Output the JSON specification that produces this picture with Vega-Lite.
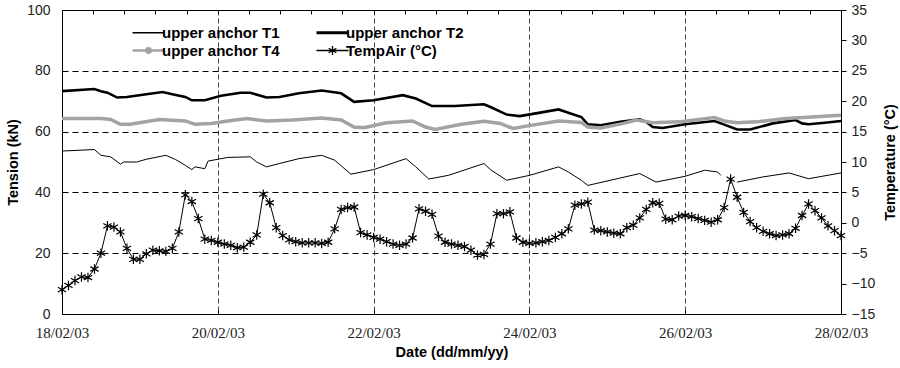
{
  "$schema": "https://vega.github.io/schema/vega-lite/v6.json",
  "width": 779,
  "height": 304,
  "autosize": "none",
  "padding": {"left": 62, "top": 10, "right": 59, "bottom": 54},
  "background": "white",
  "config": {
    "view": {"stroke": "black", "strokeWidth": 1},
    "axis": {"domainColor": "black", "tickColor": "black", "labelColor": "#222222", "titleColor": "black", "labelFont": "Liberation Sans", "titleFont": "Liberation Sans", "titleFontWeight": "bold", "titleFontSize": 14.5, "labelFontSize": 14}
  },
  "data": {
    "values": [
      {"time": "2003-02-18T00:00", "series": "upper anchor T1", "value": 53.6},
      {"time": "2003-02-18T10:00", "series": "upper anchor T1", "value": 54.1},
      {"time": "2003-02-18T12:00", "series": "upper anchor T1", "value": 52.2},
      {"time": "2003-02-18T15:00", "series": "upper anchor T1", "value": 51.7},
      {"time": "2003-02-18T18:00", "series": "upper anchor T1", "value": 49.3},
      {"time": "2003-02-18T19:00", "series": "upper anchor T1", "value": 50.0},
      {"time": "2003-02-18T23:00", "series": "upper anchor T1", "value": 50.0},
      {"time": "2003-02-19T02:00", "series": "upper anchor T1", "value": 50.9},
      {"time": "2003-02-19T08:00", "series": "upper anchor T1", "value": 52.2},
      {"time": "2003-02-19T11:00", "series": "upper anchor T1", "value": 50.8},
      {"time": "2003-02-19T14:00", "series": "upper anchor T1", "value": 48.9},
      {"time": "2003-02-19T16:00", "series": "upper anchor T1", "value": 47.5},
      {"time": "2003-02-19T17:00", "series": "upper anchor T1", "value": 48.4},
      {"time": "2003-02-19T20:00", "series": "upper anchor T1", "value": 47.8},
      {"time": "2003-02-19T21:00", "series": "upper anchor T1", "value": 50.3},
      {"time": "2003-02-20T03:00", "series": "upper anchor T1", "value": 51.5},
      {"time": "2003-02-20T10:00", "series": "upper anchor T1", "value": 51.7},
      {"time": "2003-02-20T12:00", "series": "upper anchor T1", "value": 50.0},
      {"time": "2003-02-20T15:00", "series": "upper anchor T1", "value": 48.4},
      {"time": "2003-02-20T19:00", "series": "upper anchor T1", "value": 49.5},
      {"time": "2003-02-21T01:00", "series": "upper anchor T1", "value": 51.1},
      {"time": "2003-02-21T08:00", "series": "upper anchor T1", "value": 52.2},
      {"time": "2003-02-21T12:00", "series": "upper anchor T1", "value": 50.6},
      {"time": "2003-02-21T17:00", "series": "upper anchor T1", "value": 46.0},
      {"time": "2003-02-22T00:00", "series": "upper anchor T1", "value": 47.5},
      {"time": "2003-02-22T10:00", "series": "upper anchor T1", "value": 51.1},
      {"time": "2003-02-22T13:00", "series": "upper anchor T1", "value": 48.4},
      {"time": "2003-02-22T17:00", "series": "upper anchor T1", "value": 44.4},
      {"time": "2003-02-22T23:00", "series": "upper anchor T1", "value": 45.6},
      {"time": "2003-02-23T10:00", "series": "upper anchor T1", "value": 49.5},
      {"time": "2003-02-23T12:00", "series": "upper anchor T1", "value": 47.5},
      {"time": "2003-02-23T17:00", "series": "upper anchor T1", "value": 44.0},
      {"time": "2003-02-24T00:00", "series": "upper anchor T1", "value": 45.6},
      {"time": "2003-02-24T09:00", "series": "upper anchor T1", "value": 48.4},
      {"time": "2003-02-24T12:00", "series": "upper anchor T1", "value": 46.7},
      {"time": "2003-02-24T16:00", "series": "upper anchor T1", "value": 44.0},
      {"time": "2003-02-24T18:00", "series": "upper anchor T1", "value": 42.3},
      {"time": "2003-02-25T10:00", "series": "upper anchor T1", "value": 46.2},
      {"time": "2003-02-25T12:00", "series": "upper anchor T1", "value": 45.1},
      {"time": "2003-02-25T15:00", "series": "upper anchor T1", "value": 43.4},
      {"time": "2003-02-26T00:00", "series": "upper anchor T1", "value": 45.3},
      {"time": "2003-02-26T06:00", "series": "upper anchor T1", "value": 47.3},
      {"time": "2003-02-26T10:00", "series": "upper anchor T1", "value": 46.7},
      {"time": "2003-02-26T11:00", "series": "upper anchor T1", "value": 45.6},
      {"time": "2003-02-26T13:00", "series": "upper anchor T1", "value": null},
      {"time": "2003-02-26T16:00", "series": "upper anchor T1", "value": 43.4},
      {"time": "2003-02-27T00:00", "series": "upper anchor T1", "value": 45.1},
      {"time": "2003-02-27T08:00", "series": "upper anchor T1", "value": 46.4},
      {"time": "2003-02-27T14:00", "series": "upper anchor T1", "value": 44.5},
      {"time": "2003-02-28T00:00", "series": "upper anchor T1", "value": 46.4},

      {"time": "2003-02-18T00:00", "series": "upper anchor T2", "value": 73.3},
      {"time": "2003-02-18T10:00", "series": "upper anchor T2", "value": 74.0},
      {"time": "2003-02-18T12:00", "series": "upper anchor T2", "value": 73.3},
      {"time": "2003-02-18T14:00", "series": "upper anchor T2", "value": 72.8},
      {"time": "2003-02-18T17:00", "series": "upper anchor T2", "value": 71.2},
      {"time": "2003-02-18T20:00", "series": "upper anchor T2", "value": 71.4},
      {"time": "2003-02-19T02:00", "series": "upper anchor T2", "value": 72.3},
      {"time": "2003-02-19T07:00", "series": "upper anchor T2", "value": 73.0},
      {"time": "2003-02-19T10:00", "series": "upper anchor T2", "value": 72.3},
      {"time": "2003-02-19T14:00", "series": "upper anchor T2", "value": 71.4},
      {"time": "2003-02-19T16:00", "series": "upper anchor T2", "value": 70.3},
      {"time": "2003-02-19T20:00", "series": "upper anchor T2", "value": 70.3},
      {"time": "2003-02-20T01:00", "series": "upper anchor T2", "value": 71.8},
      {"time": "2003-02-20T07:00", "series": "upper anchor T2", "value": 72.8},
      {"time": "2003-02-20T10:00", "series": "upper anchor T2", "value": 72.8},
      {"time": "2003-02-20T15:00", "series": "upper anchor T2", "value": 71.2},
      {"time": "2003-02-20T19:00", "series": "upper anchor T2", "value": 71.4},
      {"time": "2003-02-21T01:00", "series": "upper anchor T2", "value": 72.6},
      {"time": "2003-02-21T08:00", "series": "upper anchor T2", "value": 73.5},
      {"time": "2003-02-21T14:00", "series": "upper anchor T2", "value": 72.6},
      {"time": "2003-02-21T18:00", "series": "upper anchor T2", "value": 69.8},
      {"time": "2003-02-22T00:00", "series": "upper anchor T2", "value": 70.3},
      {"time": "2003-02-22T09:00", "series": "upper anchor T2", "value": 72.0},
      {"time": "2003-02-22T13:00", "series": "upper anchor T2", "value": 70.9},
      {"time": "2003-02-22T18:00", "series": "upper anchor T2", "value": 68.4},
      {"time": "2003-02-23T01:00", "series": "upper anchor T2", "value": 68.4},
      {"time": "2003-02-23T10:00", "series": "upper anchor T2", "value": 69.0},
      {"time": "2003-02-23T12:00", "series": "upper anchor T2", "value": 68.1},
      {"time": "2003-02-23T17:00", "series": "upper anchor T2", "value": 65.6},
      {"time": "2003-02-23T21:00", "series": "upper anchor T2", "value": 65.1},
      {"time": "2003-02-24T02:00", "series": "upper anchor T2", "value": 66.0},
      {"time": "2003-02-24T09:00", "series": "upper anchor T2", "value": 67.3},
      {"time": "2003-02-24T12:00", "series": "upper anchor T2", "value": 66.2},
      {"time": "2003-02-24T16:00", "series": "upper anchor T2", "value": 64.8},
      {"time": "2003-02-24T18:00", "series": "upper anchor T2", "value": 62.4},
      {"time": "2003-02-24T22:00", "series": "upper anchor T2", "value": 62.1},
      {"time": "2003-02-25T04:00", "series": "upper anchor T2", "value": 63.2},
      {"time": "2003-02-25T10:00", "series": "upper anchor T2", "value": 64.0},
      {"time": "2003-02-25T12:00", "series": "upper anchor T2", "value": 63.2},
      {"time": "2003-02-25T14:00", "series": "upper anchor T2", "value": 61.5},
      {"time": "2003-02-25T17:00", "series": "upper anchor T2", "value": 61.2},
      {"time": "2003-02-26T00:00", "series": "upper anchor T2", "value": 62.4},
      {"time": "2003-02-26T09:00", "series": "upper anchor T2", "value": 63.5},
      {"time": "2003-02-26T11:00", "series": "upper anchor T2", "value": 62.7},
      {"time": "2003-02-26T16:00", "series": "upper anchor T2", "value": 60.7},
      {"time": "2003-02-26T20:00", "series": "upper anchor T2", "value": 60.7},
      {"time": "2003-02-27T03:00", "series": "upper anchor T2", "value": 62.7},
      {"time": "2003-02-27T10:00", "series": "upper anchor T2", "value": 63.8},
      {"time": "2003-02-27T12:00", "series": "upper anchor T2", "value": 62.7},
      {"time": "2003-02-27T14:00", "series": "upper anchor T2", "value": 62.4},
      {"time": "2003-02-27T19:00", "series": "upper anchor T2", "value": 62.9},
      {"time": "2003-02-28T00:00", "series": "upper anchor T2", "value": 63.5},

      {"time": "2003-02-18T00:00", "series": "upper anchor T4", "value": 64.3},
      {"time": "2003-02-18T12:00", "series": "upper anchor T4", "value": 64.3},
      {"time": "2003-02-18T15:00", "series": "upper anchor T4", "value": 64.0},
      {"time": "2003-02-18T18:00", "series": "upper anchor T4", "value": 62.4},
      {"time": "2003-02-18T21:00", "series": "upper anchor T4", "value": 62.4},
      {"time": "2003-02-19T06:00", "series": "upper anchor T4", "value": 64.0},
      {"time": "2003-02-19T14:00", "series": "upper anchor T4", "value": 63.5},
      {"time": "2003-02-19T17:00", "series": "upper anchor T4", "value": 62.4},
      {"time": "2003-02-19T22:00", "series": "upper anchor T4", "value": 62.7},
      {"time": "2003-02-20T03:00", "series": "upper anchor T4", "value": 63.5},
      {"time": "2003-02-20T09:00", "series": "upper anchor T4", "value": 64.3},
      {"time": "2003-02-20T15:00", "series": "upper anchor T4", "value": 63.5},
      {"time": "2003-02-20T23:00", "series": "upper anchor T4", "value": 63.8},
      {"time": "2003-02-21T08:00", "series": "upper anchor T4", "value": 64.5},
      {"time": "2003-02-21T14:00", "series": "upper anchor T4", "value": 63.8},
      {"time": "2003-02-21T18:00", "series": "upper anchor T4", "value": 61.5},
      {"time": "2003-02-21T21:00", "series": "upper anchor T4", "value": 61.3},
      {"time": "2003-02-22T04:00", "series": "upper anchor T4", "value": 62.9},
      {"time": "2003-02-22T12:00", "series": "upper anchor T4", "value": 63.5},
      {"time": "2003-02-22T16:00", "series": "upper anchor T4", "value": 61.5},
      {"time": "2003-02-22T19:00", "series": "upper anchor T4", "value": 60.7},
      {"time": "2003-02-23T03:00", "series": "upper anchor T4", "value": 62.4},
      {"time": "2003-02-23T10:00", "series": "upper anchor T4", "value": 63.4},
      {"time": "2003-02-23T15:00", "series": "upper anchor T4", "value": 62.7},
      {"time": "2003-02-23T19:00", "series": "upper anchor T4", "value": 61.0},
      {"time": "2003-02-23T23:00", "series": "upper anchor T4", "value": 61.8},
      {"time": "2003-02-24T09:00", "series": "upper anchor T4", "value": 63.5},
      {"time": "2003-02-24T16:00", "series": "upper anchor T4", "value": 63.0},
      {"time": "2003-02-24T18:00", "series": "upper anchor T4", "value": 61.5},
      {"time": "2003-02-24T22:00", "series": "upper anchor T4", "value": 61.2},
      {"time": "2003-02-25T05:00", "series": "upper anchor T4", "value": 62.7},
      {"time": "2003-02-25T09:00", "series": "upper anchor T4", "value": 63.8},
      {"time": "2003-02-25T14:00", "series": "upper anchor T4", "value": 62.9},
      {"time": "2003-02-25T22:00", "series": "upper anchor T4", "value": 63.2},
      {"time": "2003-02-26T09:00", "series": "upper anchor T4", "value": 64.6},
      {"time": "2003-02-26T12:00", "series": "upper anchor T4", "value": 63.5},
      {"time": "2003-02-26T16:00", "series": "upper anchor T4", "value": 62.9},
      {"time": "2003-02-26T22:00", "series": "upper anchor T4", "value": 63.2},
      {"time": "2003-02-27T07:00", "series": "upper anchor T4", "value": 64.3},
      {"time": "2003-02-27T15:00", "series": "upper anchor T4", "value": 64.8},
      {"time": "2003-02-28T00:00", "series": "upper anchor T4", "value": 65.4},

      {"time": "2003-02-18T00:00", "series": "TempAir (°C)", "value": -11.0},
      {"time": "2003-02-18T02:00", "series": "TempAir (°C)", "value": -10.3},
      {"time": "2003-02-18T04:00", "series": "TempAir (°C)", "value": -9.5},
      {"time": "2003-02-18T06:00", "series": "TempAir (°C)", "value": -8.9},
      {"time": "2003-02-18T08:00", "series": "TempAir (°C)", "value": -9.0},
      {"time": "2003-02-18T10:00", "series": "TempAir (°C)", "value": -7.6},
      {"time": "2003-02-18T12:00", "series": "TempAir (°C)", "value": -5.0},
      {"time": "2003-02-18T14:00", "series": "TempAir (°C)", "value": -0.5},
      {"time": "2003-02-18T16:00", "series": "TempAir (°C)", "value": -0.7},
      {"time": "2003-02-18T18:00", "series": "TempAir (°C)", "value": -1.5},
      {"time": "2003-02-18T20:00", "series": "TempAir (°C)", "value": -4.2},
      {"time": "2003-02-18T22:00", "series": "TempAir (°C)", "value": -6.0},
      {"time": "2003-02-19T00:00", "series": "TempAir (°C)", "value": -6.0},
      {"time": "2003-02-19T02:00", "series": "TempAir (°C)", "value": -5.1},
      {"time": "2003-02-19T04:00", "series": "TempAir (°C)", "value": -4.5},
      {"time": "2003-02-19T06:00", "series": "TempAir (°C)", "value": -4.6},
      {"time": "2003-02-19T08:00", "series": "TempAir (°C)", "value": -4.7},
      {"time": "2003-02-19T10:00", "series": "TempAir (°C)", "value": -4.2},
      {"time": "2003-02-19T12:00", "series": "TempAir (°C)", "value": -1.5},
      {"time": "2003-02-19T14:00", "series": "TempAir (°C)", "value": 4.6},
      {"time": "2003-02-19T16:00", "series": "TempAir (°C)", "value": 3.5},
      {"time": "2003-02-19T18:00", "series": "TempAir (°C)", "value": 0.7},
      {"time": "2003-02-19T20:00", "series": "TempAir (°C)", "value": -2.7},
      {"time": "2003-02-19T22:00", "series": "TempAir (°C)", "value": -2.9},
      {"time": "2003-02-20T00:00", "series": "TempAir (°C)", "value": -3.2},
      {"time": "2003-02-20T02:00", "series": "TempAir (°C)", "value": -3.5},
      {"time": "2003-02-20T04:00", "series": "TempAir (°C)", "value": -3.7},
      {"time": "2003-02-20T06:00", "series": "TempAir (°C)", "value": -4.1},
      {"time": "2003-02-20T08:00", "series": "TempAir (°C)", "value": -4.0},
      {"time": "2003-02-20T10:00", "series": "TempAir (°C)", "value": -3.2},
      {"time": "2003-02-20T12:00", "series": "TempAir (°C)", "value": -2.0},
      {"time": "2003-02-20T14:00", "series": "TempAir (°C)", "value": 4.7},
      {"time": "2003-02-20T16:00", "series": "TempAir (°C)", "value": 3.3},
      {"time": "2003-02-20T18:00", "series": "TempAir (°C)", "value": -0.8},
      {"time": "2003-02-20T20:00", "series": "TempAir (°C)", "value": -2.1},
      {"time": "2003-02-20T22:00", "series": "TempAir (°C)", "value": -2.8},
      {"time": "2003-02-21T00:00", "series": "TempAir (°C)", "value": -3.1},
      {"time": "2003-02-21T02:00", "series": "TempAir (°C)", "value": -3.3},
      {"time": "2003-02-21T04:00", "series": "TempAir (°C)", "value": -3.3},
      {"time": "2003-02-21T06:00", "series": "TempAir (°C)", "value": -3.3},
      {"time": "2003-02-21T08:00", "series": "TempAir (°C)", "value": -3.4},
      {"time": "2003-02-21T10:00", "series": "TempAir (°C)", "value": -3.2},
      {"time": "2003-02-21T12:00", "series": "TempAir (°C)", "value": -1.0},
      {"time": "2003-02-21T14:00", "series": "TempAir (°C)", "value": 2.2},
      {"time": "2003-02-21T16:00", "series": "TempAir (°C)", "value": 2.5},
      {"time": "2003-02-21T18:00", "series": "TempAir (°C)", "value": 2.6},
      {"time": "2003-02-21T20:00", "series": "TempAir (°C)", "value": -1.6},
      {"time": "2003-02-21T22:00", "series": "TempAir (°C)", "value": -2.0},
      {"time": "2003-02-22T00:00", "series": "TempAir (°C)", "value": -2.4},
      {"time": "2003-02-22T02:00", "series": "TempAir (°C)", "value": -2.7},
      {"time": "2003-02-22T04:00", "series": "TempAir (°C)", "value": -3.1},
      {"time": "2003-02-22T06:00", "series": "TempAir (°C)", "value": -3.5},
      {"time": "2003-02-22T08:00", "series": "TempAir (°C)", "value": -3.7},
      {"time": "2003-02-22T10:00", "series": "TempAir (°C)", "value": -3.5},
      {"time": "2003-02-22T12:00", "series": "TempAir (°C)", "value": -2.5},
      {"time": "2003-02-22T14:00", "series": "TempAir (°C)", "value": 2.3},
      {"time": "2003-02-22T16:00", "series": "TempAir (°C)", "value": 1.9},
      {"time": "2003-02-22T18:00", "series": "TempAir (°C)", "value": 1.4},
      {"time": "2003-02-22T20:00", "series": "TempAir (°C)", "value": -2.2},
      {"time": "2003-02-22T22:00", "series": "TempAir (°C)", "value": -3.2},
      {"time": "2003-02-23T00:00", "series": "TempAir (°C)", "value": -3.5},
      {"time": "2003-02-23T02:00", "series": "TempAir (°C)", "value": -3.7},
      {"time": "2003-02-23T04:00", "series": "TempAir (°C)", "value": -3.9},
      {"time": "2003-02-23T06:00", "series": "TempAir (°C)", "value": -4.5},
      {"time": "2003-02-23T08:00", "series": "TempAir (°C)", "value": -5.3},
      {"time": "2003-02-23T10:00", "series": "TempAir (°C)", "value": -5.2},
      {"time": "2003-02-23T12:00", "series": "TempAir (°C)", "value": -3.5},
      {"time": "2003-02-23T14:00", "series": "TempAir (°C)", "value": 1.5},
      {"time": "2003-02-23T16:00", "series": "TempAir (°C)", "value": 1.5},
      {"time": "2003-02-23T18:00", "series": "TempAir (°C)", "value": 1.8},
      {"time": "2003-02-23T20:00", "series": "TempAir (°C)", "value": -2.5},
      {"time": "2003-02-23T22:00", "series": "TempAir (°C)", "value": -3.2},
      {"time": "2003-02-24T00:00", "series": "TempAir (°C)", "value": -3.4},
      {"time": "2003-02-24T02:00", "series": "TempAir (°C)", "value": -3.3},
      {"time": "2003-02-24T04:00", "series": "TempAir (°C)", "value": -3.1},
      {"time": "2003-02-24T06:00", "series": "TempAir (°C)", "value": -2.9},
      {"time": "2003-02-24T08:00", "series": "TempAir (°C)", "value": -2.4},
      {"time": "2003-02-24T10:00", "series": "TempAir (°C)", "value": -1.8},
      {"time": "2003-02-24T12:00", "series": "TempAir (°C)", "value": -1.0},
      {"time": "2003-02-24T14:00", "series": "TempAir (°C)", "value": 2.9},
      {"time": "2003-02-24T16:00", "series": "TempAir (°C)", "value": 3.1},
      {"time": "2003-02-24T18:00", "series": "TempAir (°C)", "value": 3.4},
      {"time": "2003-02-24T20:00", "series": "TempAir (°C)", "value": -1.2},
      {"time": "2003-02-24T22:00", "series": "TempAir (°C)", "value": -1.3},
      {"time": "2003-02-25T00:00", "series": "TempAir (°C)", "value": -1.5},
      {"time": "2003-02-25T02:00", "series": "TempAir (°C)", "value": -1.7},
      {"time": "2003-02-25T04:00", "series": "TempAir (°C)", "value": -1.8},
      {"time": "2003-02-25T06:00", "series": "TempAir (°C)", "value": -0.8},
      {"time": "2003-02-25T08:00", "series": "TempAir (°C)", "value": -0.4},
      {"time": "2003-02-25T10:00", "series": "TempAir (°C)", "value": 0.8},
      {"time": "2003-02-25T12:00", "series": "TempAir (°C)", "value": 2.2},
      {"time": "2003-02-25T14:00", "series": "TempAir (°C)", "value": 3.3},
      {"time": "2003-02-25T16:00", "series": "TempAir (°C)", "value": 3.2},
      {"time": "2003-02-25T18:00", "series": "TempAir (°C)", "value": 0.6},
      {"time": "2003-02-25T20:00", "series": "TempAir (°C)", "value": 0.5},
      {"time": "2003-02-25T22:00", "series": "TempAir (°C)", "value": 1.1},
      {"time": "2003-02-26T00:00", "series": "TempAir (°C)", "value": 1.2},
      {"time": "2003-02-26T02:00", "series": "TempAir (°C)", "value": 1.0},
      {"time": "2003-02-26T04:00", "series": "TempAir (°C)", "value": 0.7},
      {"time": "2003-02-26T06:00", "series": "TempAir (°C)", "value": 0.4},
      {"time": "2003-02-26T08:00", "series": "TempAir (°C)", "value": 0.1},
      {"time": "2003-02-26T10:00", "series": "TempAir (°C)", "value": 0.5},
      {"time": "2003-02-26T12:00", "series": "TempAir (°C)", "value": 2.5},
      {"time": "2003-02-26T14:00", "series": "TempAir (°C)", "value": 7.2},
      {"time": "2003-02-26T16:00", "series": "TempAir (°C)", "value": 4.2},
      {"time": "2003-02-26T18:00", "series": "TempAir (°C)", "value": 1.7},
      {"time": "2003-02-26T20:00", "series": "TempAir (°C)", "value": 0.2},
      {"time": "2003-02-26T22:00", "series": "TempAir (°C)", "value": -0.8},
      {"time": "2003-02-27T00:00", "series": "TempAir (°C)", "value": -1.4},
      {"time": "2003-02-27T02:00", "series": "TempAir (°C)", "value": -1.8},
      {"time": "2003-02-27T04:00", "series": "TempAir (°C)", "value": -2.1},
      {"time": "2003-02-27T06:00", "series": "TempAir (°C)", "value": -2.0},
      {"time": "2003-02-27T08:00", "series": "TempAir (°C)", "value": -1.8},
      {"time": "2003-02-27T10:00", "series": "TempAir (°C)", "value": -0.9},
      {"time": "2003-02-27T12:00", "series": "TempAir (°C)", "value": 1.2},
      {"time": "2003-02-27T14:00", "series": "TempAir (°C)", "value": 3.1},
      {"time": "2003-02-27T16:00", "series": "TempAir (°C)", "value": 2.0},
      {"time": "2003-02-27T18:00", "series": "TempAir (°C)", "value": 0.8},
      {"time": "2003-02-27T20:00", "series": "TempAir (°C)", "value": -0.5},
      {"time": "2003-02-27T22:00", "series": "TempAir (°C)", "value": -1.3},
      {"time": "2003-02-28T00:00", "series": "TempAir (°C)", "value": -2.1}
    ]
  },
  "layer": [
    {
      "transform": [{"filter": "datum.series !== 'TempAir (°C)'"}],
      "encoding": {
        "x": {
          "field": "time", "type": "temporal",
          "scale": {"domain": [{"year": 2003, "month": 2, "date": 18}, {"year": 2003, "month": 2, "date": 28}], "nice": false},
          "axis": {
            "values": [
              {"year": 2003, "month": 2, "date": 18}, {"year": 2003, "month": 2, "date": 20}, {"year": 2003, "month": 2, "date": 22},
              {"year": 2003, "month": 2, "date": 24}, {"year": 2003, "month": 2, "date": 26}, {"year": 2003, "month": 2, "date": 28}
            ],
            "format": "%d/%m/%y",
            "labelFont": "Liberation Serif", "labelFontSize": 15, "labelColor": "#222222",
            "tickSize": -4, "labelPadding": 15,
            "grid": true, "gridColor": "#444444", "gridDash": [5, 3], "gridWidth": 1,
            "title": "Date (dd/mm/yy)", "titlePadding": 5, "labelFlush": false
          }
        },
        "y": {
          "field": "value", "type": "quantitative",
          "scale": {"domain": [0, 100], "nice": false, "zero": false},
          "axis": {
            "orient": "left", "values": [0, 20, 40, 60, 80, 100],
            "ticks": false, "labelPadding": 12,
            "grid": true, "gridColor": "black", "gridDash": [6, 4], "gridWidth": 1,
            "title": "Tension (kN)", "titlePadding": 6
          }
        }
      },
      "layer": [
        {"transform": [{"filter": "datum.series === 'upper anchor T1'"}], "mark": {"type": "line", "color": "black", "strokeWidth": 1, "invalid": "break-paths-filter-domains"}},
        {"transform": [{"filter": "datum.series === 'upper anchor T2'"}], "mark": {"type": "line", "color": "black", "strokeWidth": 2.6}},
        {"transform": [{"filter": "datum.series === 'upper anchor T4'"}], "mark": {"type": "line", "color": "#a3a3a3", "strokeWidth": 3.5}}
      ]
    },
    {
      "transform": [{"filter": "datum.series === 'TempAir (°C)'"}],
      "encoding": {
        "x": {
          "field": "time", "type": "temporal",
          "scale": {"domain": [{"year": 2003, "month": 2, "date": 18}, {"year": 2003, "month": 2, "date": 28}], "nice": false},
          "axis": {
            "values": [
              {"year": 2003, "month": 2, "date": 18, "hours": 0}, {"year": 2003, "month": 2, "date": 18, "hours": 9, "minutes": 36},
              {"year": 2003, "month": 2, "date": 18, "hours": 19, "minutes": 12}, {"year": 2003, "month": 2, "date": 19, "hours": 4, "minutes": 48},
              {"year": 2003, "month": 2, "date": 19, "hours": 14, "minutes": 24}, {"year": 2003, "month": 2, "date": 20, "hours": 0},
              {"year": 2003, "month": 2, "date": 20, "hours": 9, "minutes": 36}, {"year": 2003, "month": 2, "date": 20, "hours": 19, "minutes": 12},
              {"year": 2003, "month": 2, "date": 21, "hours": 4, "minutes": 48}, {"year": 2003, "month": 2, "date": 21, "hours": 14, "minutes": 24},
              {"year": 2003, "month": 2, "date": 22, "hours": 0}, {"year": 2003, "month": 2, "date": 22, "hours": 9, "minutes": 36},
              {"year": 2003, "month": 2, "date": 22, "hours": 19, "minutes": 12}, {"year": 2003, "month": 2, "date": 23, "hours": 4, "minutes": 48},
              {"year": 2003, "month": 2, "date": 23, "hours": 14, "minutes": 24}, {"year": 2003, "month": 2, "date": 24, "hours": 0},
              {"year": 2003, "month": 2, "date": 24, "hours": 9, "minutes": 36}, {"year": 2003, "month": 2, "date": 24, "hours": 19, "minutes": 12},
              {"year": 2003, "month": 2, "date": 25, "hours": 4, "minutes": 48}, {"year": 2003, "month": 2, "date": 25, "hours": 14, "minutes": 24},
              {"year": 2003, "month": 2, "date": 26, "hours": 0}, {"year": 2003, "month": 2, "date": 26, "hours": 9, "minutes": 36},
              {"year": 2003, "month": 2, "date": 26, "hours": 19, "minutes": 12}, {"year": 2003, "month": 2, "date": 27, "hours": 4, "minutes": 48},
              {"year": 2003, "month": 2, "date": 27, "hours": 14, "minutes": 24}, {"year": 2003, "month": 2, "date": 28, "hours": 0}
            ],
            "labels": false, "domain": false, "grid": false, "title": null, "tickSize": -4
          }
        },
        "y": {
          "field": "value", "type": "quantitative",
          "scale": {"domain": [-15, 35], "nice": false, "zero": false},
          "axis": {
            "orient": "right", "values": [-15, -10, -5, 0, 5, 10, 15, 20, 25, 30, 35],
            "tickSize": 5, "labelPadding": 5, "grid": false,
            "title": "Temperature (°C)", "titleAngle": 270, "titleBaseline": "top", "titlePadding": 9
          }
        }
      },
      "layer": [
        {"mark": {"type": "line", "color": "black", "strokeWidth": 1}},
        {
          "mark": {"type": "point", "shape": "M-0.87,-0.5L0.87,0.5M-0.87,0.5L0.87,-0.5M0,-1V1", "size": 90, "filled": false, "strokeWidth": 1.2, "opacity": 1},
          "encoding": {
            "color": {
              "field": "series", "type": "nominal",
              "scale": {"domain": ["upper anchor T1", "upper anchor T4", "upper anchor T2", "TempAir (°C)"], "range": ["black", "#a3a3a3", "black", "black"]},
              "legend": {
                "orient": "none", "legendX": 79, "legendY": 15, "columns": 2, "title": null, "padding": 0,
                "columnPadding": 30, "rowPadding": 2, "symbolSize": 324, "symbolOpacity": 1,
                "labelFont": "Liberation Sans", "labelFontSize": 15, "labelFontWeight": "bold", "labelColor": "black",
                "labelOffset": 6, "labelLimit": 300,
                "encoding": {
                  "symbols": {
                    "size": {"value": 1024},
                    "shape": {"value": {"expr": "datum.value === 'upper anchor T4' ? 'M-1,0H1M0.14,0A0.14,0.14,0,1,1,-0.14,0A0.14,0.14,0,1,1,0.14,0Z' : (datum.value === 'TempAir (°C)' ? 'M-1,0H1M-0.24,-0.14L0.24,0.14M-0.24,0.14L0.24,-0.14M0,-0.28V0.28' : 'stroke')"}},
                    "strokeWidth": {"value": {"expr": "datum.value === 'upper anchor T2' ? 3 : (datum.value === 'upper anchor T4' ? 2.5 : 1.3)"}},
                    "fill": {"value": {"expr": "datum.value === 'upper anchor T4' ? '#a3a3a3' : 'transparent'"}}
                  }
                }
              }
            }
          }
        }
      ]
    }
  ],
  "resolve": {"scale": {"y": "independent"}, "axis": {"x": "independent"}}
}
